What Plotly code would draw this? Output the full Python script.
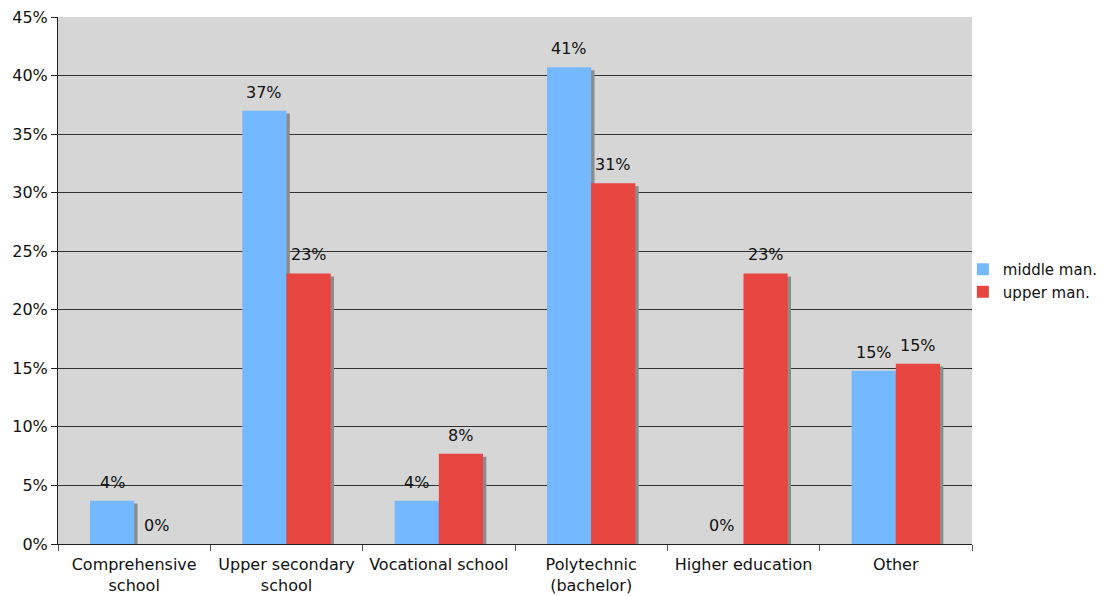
import plotly.graph_objects as go

categories = ["Comprehensive<br>school", "Upper secondary<br>school", "Vocational school",
              "Polytechnic<br>(bachelor)", "Higher education", "Other"]
middle_man = [3.7, 37.0, 3.7, 40.7, 0.0, 14.8]
upper_man = [0.0, 23.1, 7.7, 30.8, 23.1, 15.4]
y_ticks = [0, 5, 10, 15, 20, 25, 30, 35, 40, 45]

FONT = "DejaVu Sans, Verdana, sans-serif"
BAR_W = 0.29
CAT_PX = 914 / 6    # pixel width of one category on the x axis
SHADOW_DX = 0.022   # shadow shift right, category units
SHADOW_DY = 0.25    # shadow drop, percent units

fig = go.Figure()

# drop shadows, drawn first so the bars sit on top
for vals, off in ((middle_man, -BAR_W), (upper_man, 0.0)):
    fig.add_trace(go.Bar(
        x=categories, y=[max(v - SHADOW_DY, 0) for v in vals],
        width=BAR_W, offset=off + SHADOW_DX,
        marker=dict(color="#8c8c8c", line_width=0),
        showlegend=False, hoverinfo="skip",
    ))

for name, vals, off, color in (("middle man.", middle_man, -BAR_W, "#74b8ff"),
                               ("upper man.", upper_man, 0.0, "#e64540")):
    fig.add_trace(go.Bar(
        x=categories, y=vals, name=name,
        width=BAR_W, offset=off,
        marker=dict(color=color, line_width=0),
    ))
    # value labels above each bar
    for cat, v in zip(categories, vals):
        fig.add_annotation(
            x=cat, y=v, text=f"{round(v):.0f}%", showarrow=False,
            xshift=(off + BAR_W / 2) * CAT_PX, yshift=7, yanchor="bottom",
            font=dict(family=FONT, size=16, color="#111111"),
        )

# page body has an 8px margin, so the figure is a bit smaller than the window
fig.update_layout(
    width=1100, height=588,
    barmode="overlay",
    paper_bgcolor="white", plot_bgcolor="#d6d6d6",
    font=dict(family=FONT, size=16, color="#111111"),
    margin=dict(l=50, r=136, t=9, b=52, autoexpand=False),
    legend=dict(x=0.99, y=0.5, xanchor="left", yanchor="middle",
                font=dict(size=15), tracegroupgap=0, bgcolor="rgba(0,0,0,0)",
                itemwidth=30),
)
fig.update_xaxes(
    showline=True, linecolor="#222222", linewidth=1,
    ticks="outside", tickson="boundaries", ticklen=6, tickcolor="#555555",
    ticklabelstandoff=6,
    showgrid=False, tickfont=dict(size=16), automargin=False,
)
fig.update_yaxes(
    range=[0, 45], tickvals=y_ticks, ticktext=[f"{t}%" for t in y_ticks],
    showline=True, linecolor="#222222", linewidth=1,
    ticks="outside", ticklen=6, tickcolor="#222222",
    ticklabeloverflow="allow",
    showgrid=True, gridcolor="#333333", gridwidth=1,
    zeroline=False, tickfont=dict(size=16), automargin=False,
)

fig.write_html("out.html")
